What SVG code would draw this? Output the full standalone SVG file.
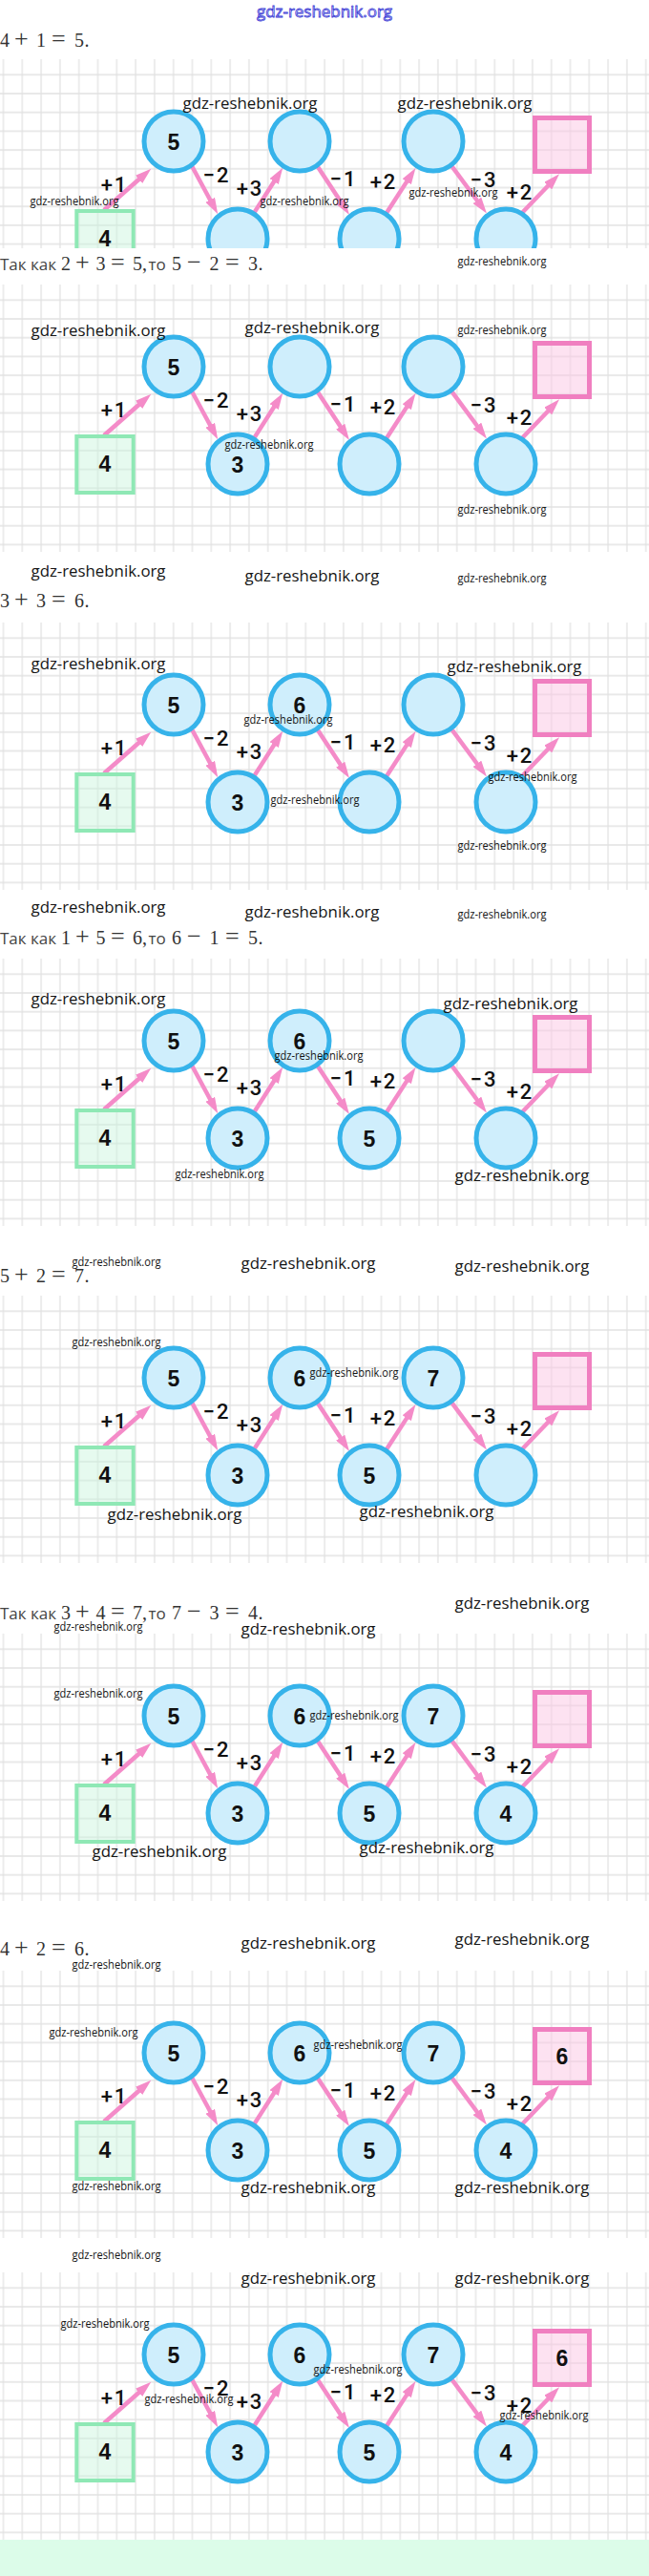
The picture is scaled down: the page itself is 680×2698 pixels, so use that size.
<svg xmlns="http://www.w3.org/2000/svg" width="680" height="2698" viewBox="0 0 680 2698">
<defs>
<style>
.grid{fill:url(#gp)}
.c{fill:#cfeefc;stroke:#36b3ea;stroke-width:5}
.sg{fill:#c8f5dc;fill-opacity:.45;stroke:#8fe8b5;stroke-width:4}
.sp{fill:#fbc6e4;fill-opacity:.5;stroke:#f07fc0;stroke-width:5}
.ar{stroke:#f48bc8;stroke-width:4.5;fill:none;marker-end:url(#ah)}
.n{font-family:"Liberation Sans",Arial,sans-serif;font-weight:bold;font-size:23px;fill:#111;text-anchor:middle}
.l{font-family:Roboto,"Liberation Sans",Arial,sans-serif;font-weight:500;font-size:22px;fill:#111;text-anchor:middle;letter-spacing:2px}
.wb{font-family:"Open Sans","Liberation Sans",sans-serif;font-size:17px;fill:#151515}
.ws{font-family:"Open Sans","Liberation Sans",sans-serif;font-size:12px;fill:#151515}
.wt{font-family:"Open Sans","Liberation Sans",sans-serif;font-size:16px;fill:#f4f4ff;stroke:#3d3dd6;stroke-width:.8}
.hm{font-family:"Liberation Serif","Times New Roman",serif;font-size:20px;fill:#333}
.op{font-size:26px}
.hs{font-family:"Open Sans","Liberation Sans",sans-serif;font-size:17px;fill:#444}
</style>
<pattern id="gp" patternUnits="userSpaceOnUse" x="-6.4" y="-79.55" width="19.8" height="19.7">
<path d="M9.9,0V19.7M0,9.85H19.8" stroke="#e2e2e2" stroke-width="1.3" fill="none"/>
</pattern>
<marker id="ah" markerUnits="userSpaceOnUse" viewBox="0 0 17 11" markerWidth="17" markerHeight="11" refX="7" refY="5.5" orient="auto">
<path d="M0,0 L17,5.5 L0,11 Z" fill="#f48bc8"/>
</marker>
<clipPath id="clip1"><rect x="0" y="-86" width="680" height="198"/></clipPath>
</defs>
<rect x="0" y="0" width="680" height="2698" fill="#fff"/>

<g id="headers">
<text class="hm" y="49" x="0 10 15 30 38 48 54 69 78 88.5">4 <tspan class="op">+</tspan> 1 <tspan class="op">=</tspan> 5.</text>
<text y="283"><tspan class="hs" x="0">Так как</tspan><tspan class="hm" x="59 64 74 79 93.7 100.5 110.5 116 130.7 139 149"> 2 <tspan class="op">+</tspan> 3 <tspan class="op">=</tspan> 5,</tspan><tspan class="hs" x="151"> то</tspan><tspan class="hm" x="174.5 180 190 196 210.7 219.5 229.5 236 250.7 260 270.5"> 5 <tspan class="op">−</tspan> 2 <tspan class="op">=</tspan> 3.</tspan></text>
<text class="hm" y="636" x="0 10 15 30 38 48 54 69 78 88.5">3 <tspan class="op">+</tspan> 3 <tspan class="op">=</tspan> 6.</text>
<text y="989"><tspan class="hs" x="0">Так как</tspan><tspan class="hm" x="59 64 74 79 93.7 100.5 110.5 116 130.7 139 149"> 1 <tspan class="op">+</tspan> 5 <tspan class="op">=</tspan> 6,</tspan><tspan class="hs" x="151"> то</tspan><tspan class="hm" x="174.5 180 190 196 210.7 219.5 229.5 236 250.7 260 270.5"> 6 <tspan class="op">−</tspan> 1 <tspan class="op">=</tspan> 5.</tspan></text>
<text class="hm" y="1343" x="0 10 15 30 38 48 54 69 78 88.5">5 <tspan class="op">+</tspan> 2 <tspan class="op">=</tspan> 7.</text>
<text y="1696"><tspan class="hs" x="0">Так как</tspan><tspan class="hm" x="59 64 74 79 93.7 100.5 110.5 116 130.7 139 149"> 3 <tspan class="op">+</tspan> 4 <tspan class="op">=</tspan> 7,</tspan><tspan class="hs" x="151"> то</tspan><tspan class="hm" x="174.5 180 190 196 210.7 219.5 229.5 236 250.7 260 270.5"> 7 <tspan class="op">−</tspan> 3 <tspan class="op">=</tspan> 4.</tspan></text>
<text class="hm" y="2048" x="0 10 15 30 38 48 54 69 78 88.5">4 <tspan class="op">+</tspan> 2 <tspan class="op">=</tspan> 6.</text>
</g>

<!-- Panel 1 -->
<g id="p1" transform="translate(0,148)" clip-path="url(#clip1)">
<rect class="grid" x="0" y="-86" width="680" height="198"/>
<g id="p1-connectors">
<path class="ar" d="M109,72 L150.8,35.3"/><path class="ar" d="M200,24 L223.5,67.5"/><path class="ar" d="M265.6,75.9 L290.9,36.2"/><path class="ar" d="M332,25.2 L360.5,68.6"/><path class="ar" d="M404,76.5 L430,36.4"/><path class="ar" d="M472.5,24.9 L504,67.5"/><path class="ar" d="M545,77 L579.1,41.5"/>
<text class="l" x="120" y="52.5">+1</text><text class="l" x="227" y="42.5">−2</text><text class="l" x="262" y="57">+3</text><text class="l" x="360" y="46.5">−1</text><text class="l" x="402" y="50">+2</text><text class="l" x="507" y="47.5">−3</text><text class="l" x="545" y="60.5">+2</text>
</g>
<g id="p1-start"><rect class="sg" x="80.3" y="73" width="59.4" height="59"/><text class="n" x="110" y="109.5">4</text></g>
<g id="p1-a"><circle class="c" cx="182" cy="0" r="31"/><text class="n" x="182" y="9">5</text></g>
<g id="p1-b"><circle class="c" cx="249" cy="102" r="31"/></g>
<g id="p1-c"><circle class="c" cx="314" cy="0" r="31"/></g>
<g id="p1-d"><circle class="c" cx="387" cy="102" r="31"/></g>
<g id="p1-e"><circle class="c" cx="454" cy="0" r="31"/></g>
<g id="p1-f"><circle class="c" cx="530" cy="102" r="31"/></g>
<g id="p1-end"><rect class="sp" x="560.5" y="-24.5" width="57" height="56"/></g>
</g>

<!-- Panel 2 -->
<g id="p2" transform="translate(0,384)">
<rect class="grid" x="0" y="-86" width="680" height="280"/>
<g id="p2-connectors">
<path class="ar" d="M109,72 L150.8,35.3"/><path class="ar" d="M200,24 L223.5,67.5"/><path class="ar" d="M265.6,75.9 L290.9,36.2"/><path class="ar" d="M332,25.2 L360.5,68.6"/><path class="ar" d="M404,76.5 L430,36.4"/><path class="ar" d="M472.5,24.9 L504,67.5"/><path class="ar" d="M545,77 L579.1,41.5"/>
<text class="l" x="120" y="52.5">+1</text><text class="l" x="227" y="42.5">−2</text><text class="l" x="262" y="57">+3</text><text class="l" x="360" y="46.5">−1</text><text class="l" x="402" y="50">+2</text><text class="l" x="507" y="47.5">−3</text><text class="l" x="545" y="60.5">+2</text>
</g>
<g id="p2-start"><rect class="sg" x="80.3" y="73" width="59.4" height="59"/><text class="n" x="110" y="109.5">4</text></g>
<g id="p2-a"><circle class="c" cx="182" cy="0" r="31"/><text class="n" x="182" y="9">5</text></g>
<g id="p2-b"><circle class="c" cx="249" cy="102" r="31"/><text class="n" x="249" y="111">3</text></g>
<g id="p2-c"><circle class="c" cx="314" cy="0" r="31"/></g>
<g id="p2-d"><circle class="c" cx="387" cy="102" r="31"/></g>
<g id="p2-e"><circle class="c" cx="454" cy="0" r="31"/></g>
<g id="p2-f"><circle class="c" cx="530" cy="102" r="31"/></g>
<g id="p2-end"><rect class="sp" x="560.5" y="-24.5" width="57" height="56"/></g>
</g>

<!-- Panel 3 -->
<g id="p3" transform="translate(0,738)">
<rect class="grid" x="0" y="-86" width="680" height="280"/>
<g id="p3-connectors">
<path class="ar" d="M109,72 L150.8,35.3"/><path class="ar" d="M200,24 L223.5,67.5"/><path class="ar" d="M265.6,75.9 L290.9,36.2"/><path class="ar" d="M332,25.2 L360.5,68.6"/><path class="ar" d="M404,76.5 L430,36.4"/><path class="ar" d="M472.5,24.9 L504,67.5"/><path class="ar" d="M545,77 L579.1,41.5"/>
<text class="l" x="120" y="52.5">+1</text><text class="l" x="227" y="42.5">−2</text><text class="l" x="262" y="57">+3</text><text class="l" x="360" y="46.5">−1</text><text class="l" x="402" y="50">+2</text><text class="l" x="507" y="47.5">−3</text><text class="l" x="545" y="60.5">+2</text>
</g>
<g id="p3-start"><rect class="sg" x="80.3" y="73" width="59.4" height="59"/><text class="n" x="110" y="109.5">4</text></g>
<g id="p3-a"><circle class="c" cx="182" cy="0" r="31"/><text class="n" x="182" y="9">5</text></g>
<g id="p3-b"><circle class="c" cx="249" cy="102" r="31"/><text class="n" x="249" y="111">3</text></g>
<g id="p3-c"><circle class="c" cx="314" cy="0" r="31"/><text class="n" x="314" y="9">6</text></g>
<g id="p3-d"><circle class="c" cx="387" cy="102" r="31"/></g>
<g id="p3-e"><circle class="c" cx="454" cy="0" r="31"/></g>
<g id="p3-f"><circle class="c" cx="530" cy="102" r="31"/></g>
<g id="p3-end"><rect class="sp" x="560.5" y="-24.5" width="57" height="56"/></g>
</g>

<!-- Panel 4 -->
<g id="p4" transform="translate(0,1090)">
<rect class="grid" x="0" y="-86" width="680" height="280"/>
<g id="p4-connectors">
<path class="ar" d="M109,72 L150.8,35.3"/><path class="ar" d="M200,24 L223.5,67.5"/><path class="ar" d="M265.6,75.9 L290.9,36.2"/><path class="ar" d="M332,25.2 L360.5,68.6"/><path class="ar" d="M404,76.5 L430,36.4"/><path class="ar" d="M472.5,24.9 L504,67.5"/><path class="ar" d="M545,77 L579.1,41.5"/>
<text class="l" x="120" y="52.5">+1</text><text class="l" x="227" y="42.5">−2</text><text class="l" x="262" y="57">+3</text><text class="l" x="360" y="46.5">−1</text><text class="l" x="402" y="50">+2</text><text class="l" x="507" y="47.5">−3</text><text class="l" x="545" y="60.5">+2</text>
</g>
<g id="p4-start"><rect class="sg" x="80.3" y="73" width="59.4" height="59"/><text class="n" x="110" y="109.5">4</text></g>
<g id="p4-a"><circle class="c" cx="182" cy="0" r="31"/><text class="n" x="182" y="9">5</text></g>
<g id="p4-b"><circle class="c" cx="249" cy="102" r="31"/><text class="n" x="249" y="111">3</text></g>
<g id="p4-c"><circle class="c" cx="314" cy="0" r="31"/><text class="n" x="314" y="9">6</text></g>
<g id="p4-d"><circle class="c" cx="387" cy="102" r="31"/><text class="n" x="387" y="111">5</text></g>
<g id="p4-e"><circle class="c" cx="454" cy="0" r="31"/></g>
<g id="p4-f"><circle class="c" cx="530" cy="102" r="31"/></g>
<g id="p4-end"><rect class="sp" x="560.5" y="-24.5" width="57" height="56"/></g>
</g>

<!-- Panel 5 -->
<g id="p5" transform="translate(0,1443)">
<rect class="grid" x="0" y="-86" width="680" height="280"/>
<g id="p5-connectors">
<path class="ar" d="M109,72 L150.8,35.3"/><path class="ar" d="M200,24 L223.5,67.5"/><path class="ar" d="M265.6,75.9 L290.9,36.2"/><path class="ar" d="M332,25.2 L360.5,68.6"/><path class="ar" d="M404,76.5 L430,36.4"/><path class="ar" d="M472.5,24.9 L504,67.5"/><path class="ar" d="M545,77 L579.1,41.5"/>
<text class="l" x="120" y="52.5">+1</text><text class="l" x="227" y="42.5">−2</text><text class="l" x="262" y="57">+3</text><text class="l" x="360" y="46.5">−1</text><text class="l" x="402" y="50">+2</text><text class="l" x="507" y="47.5">−3</text><text class="l" x="545" y="60.5">+2</text>
</g>
<g id="p5-start"><rect class="sg" x="80.3" y="73" width="59.4" height="59"/><text class="n" x="110" y="109.5">4</text></g>
<g id="p5-a"><circle class="c" cx="182" cy="0" r="31"/><text class="n" x="182" y="9">5</text></g>
<g id="p5-b"><circle class="c" cx="249" cy="102" r="31"/><text class="n" x="249" y="111">3</text></g>
<g id="p5-c"><circle class="c" cx="314" cy="0" r="31"/><text class="n" x="314" y="9">6</text></g>
<g id="p5-d"><circle class="c" cx="387" cy="102" r="31"/><text class="n" x="387" y="111">5</text></g>
<g id="p5-e"><circle class="c" cx="454" cy="0" r="31"/><text class="n" x="454" y="9">7</text></g>
<g id="p5-f"><circle class="c" cx="530" cy="102" r="31"/></g>
<g id="p5-end"><rect class="sp" x="560.5" y="-24.5" width="57" height="56"/></g>
</g>

<!-- Panel 6 -->
<g id="p6" transform="translate(0,1797)">
<rect class="grid" x="0" y="-86" width="680" height="280"/>
<g id="p6-connectors">
<path class="ar" d="M109,72 L150.8,35.3"/><path class="ar" d="M200,24 L223.5,67.5"/><path class="ar" d="M265.6,75.9 L290.9,36.2"/><path class="ar" d="M332,25.2 L360.5,68.6"/><path class="ar" d="M404,76.5 L430,36.4"/><path class="ar" d="M472.5,24.9 L504,67.5"/><path class="ar" d="M545,77 L579.1,41.5"/>
<text class="l" x="120" y="52.5">+1</text><text class="l" x="227" y="42.5">−2</text><text class="l" x="262" y="57">+3</text><text class="l" x="360" y="46.5">−1</text><text class="l" x="402" y="50">+2</text><text class="l" x="507" y="47.5">−3</text><text class="l" x="545" y="60.5">+2</text>
</g>
<g id="p6-start"><rect class="sg" x="80.3" y="73" width="59.4" height="59"/><text class="n" x="110" y="109.5">4</text></g>
<g id="p6-a"><circle class="c" cx="182" cy="0" r="31"/><text class="n" x="182" y="9">5</text></g>
<g id="p6-b"><circle class="c" cx="249" cy="102" r="31"/><text class="n" x="249" y="111">3</text></g>
<g id="p6-c"><circle class="c" cx="314" cy="0" r="31"/><text class="n" x="314" y="9">6</text></g>
<g id="p6-d"><circle class="c" cx="387" cy="102" r="31"/><text class="n" x="387" y="111">5</text></g>
<g id="p6-e"><circle class="c" cx="454" cy="0" r="31"/><text class="n" x="454" y="9">7</text></g>
<g id="p6-f"><circle class="c" cx="530" cy="102" r="31"/><text class="n" x="530" y="111">4</text></g>
<g id="p6-end"><rect class="sp" x="560.5" y="-24.5" width="57" height="56"/></g>
</g>

<!-- Panel 7 -->
<g id="p7" transform="translate(0,2150)">
<rect class="grid" x="0" y="-86" width="680" height="280"/>
<g id="p7-connectors">
<path class="ar" d="M109,72 L150.8,35.3"/><path class="ar" d="M200,24 L223.5,67.5"/><path class="ar" d="M265.6,75.9 L290.9,36.2"/><path class="ar" d="M332,25.2 L360.5,68.6"/><path class="ar" d="M404,76.5 L430,36.4"/><path class="ar" d="M472.5,24.9 L504,67.5"/><path class="ar" d="M545,77 L579.1,41.5"/>
<text class="l" x="120" y="52.5">+1</text><text class="l" x="227" y="42.5">−2</text><text class="l" x="262" y="57">+3</text><text class="l" x="360" y="46.5">−1</text><text class="l" x="402" y="50">+2</text><text class="l" x="507" y="47.5">−3</text><text class="l" x="545" y="60.5">+2</text>
</g>
<g id="p7-start"><rect class="sg" x="80.3" y="73" width="59.4" height="59"/><text class="n" x="110" y="109.5">4</text></g>
<g id="p7-a"><circle class="c" cx="182" cy="0" r="31"/><text class="n" x="182" y="9">5</text></g>
<g id="p7-b"><circle class="c" cx="249" cy="102" r="31"/><text class="n" x="249" y="111">3</text></g>
<g id="p7-c"><circle class="c" cx="314" cy="0" r="31"/><text class="n" x="314" y="9">6</text></g>
<g id="p7-d"><circle class="c" cx="387" cy="102" r="31"/><text class="n" x="387" y="111">5</text></g>
<g id="p7-e"><circle class="c" cx="454" cy="0" r="31"/><text class="n" x="454" y="9">7</text></g>
<g id="p7-f"><circle class="c" cx="530" cy="102" r="31"/><text class="n" x="530" y="111">4</text></g>
<g id="p7-end"><rect class="sp" x="560.5" y="-24.5" width="57" height="56"/><text class="n" x="589" y="12">6</text></g>
</g>

<!-- Panel 8 -->
<g id="p8" transform="translate(0,2466)">
<rect class="grid" x="0" y="-86" width="680" height="280"/>
<g id="p8-connectors">
<path class="ar" d="M109,72 L150.8,35.3"/><path class="ar" d="M200,24 L223.5,67.5"/><path class="ar" d="M265.6,75.9 L290.9,36.2"/><path class="ar" d="M332,25.2 L360.5,68.6"/><path class="ar" d="M404,76.5 L430,36.4"/><path class="ar" d="M472.5,24.9 L504,67.5"/><path class="ar" d="M545,77 L579.1,41.5"/>
<text class="l" x="120" y="52.5">+1</text><text class="l" x="227" y="42.5">−2</text><text class="l" x="262" y="57">+3</text><text class="l" x="360" y="46.5">−1</text><text class="l" x="402" y="50">+2</text><text class="l" x="507" y="47.5">−3</text><text class="l" x="545" y="60.5">+2</text>
</g>
<g id="p8-start"><rect class="sg" x="80.3" y="73" width="59.4" height="59"/><text class="n" x="110" y="109.5">4</text></g>
<g id="p8-a"><circle class="c" cx="182" cy="0" r="31"/><text class="n" x="182" y="9">5</text></g>
<g id="p8-b"><circle class="c" cx="249" cy="102" r="31"/><text class="n" x="249" y="111">3</text></g>
<g id="p8-c"><circle class="c" cx="314" cy="0" r="31"/><text class="n" x="314" y="9">6</text></g>
<g id="p8-d"><circle class="c" cx="387" cy="102" r="31"/><text class="n" x="387" y="111">5</text></g>
<g id="p8-e"><circle class="c" cx="454" cy="0" r="31"/><text class="n" x="454" y="9">7</text></g>
<g id="p8-f"><circle class="c" cx="530" cy="102" r="31"/><text class="n" x="530" y="111">4</text></g>
<g id="p8-end"><rect class="sp" x="560.5" y="-24.5" width="57" height="56"/><text class="n" x="589" y="12">6</text></g>
</g>

<rect id="bottom-band" x="0" y="2660" width="680" height="38" fill="#dcfce9"/>

<g id="watermarks">
<text class="wt" x="269" y="18" textLength="142" lengthAdjust="spacingAndGlyphs">gdz-reshebnik.org</text>
<text class="wb" x="191.5" y="114.4" textLength="141" lengthAdjust="spacingAndGlyphs">gdz-reshebnik.org</text>
<text class="wb" x="416.5" y="114.4" textLength="141" lengthAdjust="spacingAndGlyphs">gdz-reshebnik.org</text>
<text class="ws" x="31.5" y="215.2" textLength="93" lengthAdjust="spacingAndGlyphs">gdz-reshebnik.org</text>
<text class="ws" x="272.5" y="215.2" textLength="93" lengthAdjust="spacingAndGlyphs">gdz-reshebnik.org</text>
<text class="ws" x="428.5" y="206.2" textLength="93" lengthAdjust="spacingAndGlyphs">gdz-reshebnik.org</text>
<text class="ws" x="479.5" y="278.2" textLength="93" lengthAdjust="spacingAndGlyphs">gdz-reshebnik.org</text>
<text class="wb" x="32.5" y="352.4" textLength="141" lengthAdjust="spacingAndGlyphs">gdz-reshebnik.org</text>
<text class="wb" x="256.5" y="349.4" textLength="141" lengthAdjust="spacingAndGlyphs">gdz-reshebnik.org</text>
<text class="ws" x="479.5" y="350.2" textLength="93" lengthAdjust="spacingAndGlyphs">gdz-reshebnik.org</text>
<text class="ws" x="235.5" y="470.2" textLength="93" lengthAdjust="spacingAndGlyphs">gdz-reshebnik.org</text>
<text class="ws" x="479.5" y="538.2" textLength="93" lengthAdjust="spacingAndGlyphs">gdz-reshebnik.org</text>
<text class="wb" x="32.5" y="604.4" textLength="141" lengthAdjust="spacingAndGlyphs">gdz-reshebnik.org</text>
<text class="wb" x="256.5" y="609.4" textLength="141" lengthAdjust="spacingAndGlyphs">gdz-reshebnik.org</text>
<text class="ws" x="479.5" y="610.2" textLength="93" lengthAdjust="spacingAndGlyphs">gdz-reshebnik.org</text>
<text class="wb" x="32.5" y="701.4" textLength="141" lengthAdjust="spacingAndGlyphs">gdz-reshebnik.org</text>
<text class="wb" x="468.5" y="704.4" textLength="141" lengthAdjust="spacingAndGlyphs">gdz-reshebnik.org</text>
<text class="ws" x="255.5" y="758.2" textLength="93" lengthAdjust="spacingAndGlyphs">gdz-reshebnik.org</text>
<text class="ws" x="283.5" y="842.2" textLength="93" lengthAdjust="spacingAndGlyphs">gdz-reshebnik.org</text>
<text class="ws" x="511.5" y="818.2" textLength="93" lengthAdjust="spacingAndGlyphs">gdz-reshebnik.org</text>
<text class="ws" x="479.5" y="890.2" textLength="93" lengthAdjust="spacingAndGlyphs">gdz-reshebnik.org</text>
<text class="wb" x="32.5" y="956.4" textLength="141" lengthAdjust="spacingAndGlyphs">gdz-reshebnik.org</text>
<text class="wb" x="256.5" y="961.4" textLength="141" lengthAdjust="spacingAndGlyphs">gdz-reshebnik.org</text>
<text class="ws" x="479.5" y="962.2" textLength="93" lengthAdjust="spacingAndGlyphs">gdz-reshebnik.org</text>
<text class="wb" x="32.5" y="1052.4" textLength="141" lengthAdjust="spacingAndGlyphs">gdz-reshebnik.org</text>
<text class="wb" x="464.5" y="1057.4" textLength="141" lengthAdjust="spacingAndGlyphs">gdz-reshebnik.org</text>
<text class="ws" x="287.5" y="1110.2" textLength="93" lengthAdjust="spacingAndGlyphs">gdz-reshebnik.org</text>
<text class="ws" x="183.5" y="1234.2" textLength="93" lengthAdjust="spacingAndGlyphs">gdz-reshebnik.org</text>
<text class="wb" x="476.5" y="1237.4" textLength="141" lengthAdjust="spacingAndGlyphs">gdz-reshebnik.org</text>
<text class="ws" x="75.5" y="1326.2" textLength="93" lengthAdjust="spacingAndGlyphs">gdz-reshebnik.org</text>
<text class="wb" x="252.5" y="1329.4" textLength="141" lengthAdjust="spacingAndGlyphs">gdz-reshebnik.org</text>
<text class="wb" x="476.5" y="1332.4" textLength="141" lengthAdjust="spacingAndGlyphs">gdz-reshebnik.org</text>
<text class="ws" x="75.5" y="1410.2" textLength="93" lengthAdjust="spacingAndGlyphs">gdz-reshebnik.org</text>
<text class="ws" x="324.5" y="1442.2" textLength="93" lengthAdjust="spacingAndGlyphs">gdz-reshebnik.org</text>
<text class="wb" x="112.5" y="1592.4" textLength="141" lengthAdjust="spacingAndGlyphs">gdz-reshebnik.org</text>
<text class="wb" x="376.5" y="1589.4" textLength="141" lengthAdjust="spacingAndGlyphs">gdz-reshebnik.org</text>
<text class="wb" x="476.5" y="1685.4" textLength="141" lengthAdjust="spacingAndGlyphs">gdz-reshebnik.org</text>
<text class="ws" x="56.5" y="1707.5" textLength="93" lengthAdjust="spacingAndGlyphs">gdz-reshebnik.org</text>
<text class="wb" x="252.5" y="1711.5" textLength="141" lengthAdjust="spacingAndGlyphs">gdz-reshebnik.org</text>
<text class="ws" x="56.5" y="1778.2" textLength="93" lengthAdjust="spacingAndGlyphs">gdz-reshebnik.org</text>
<text class="ws" x="324.5" y="1801.2" textLength="93" lengthAdjust="spacingAndGlyphs">gdz-reshebnik.org</text>
<text class="wb" x="96.5" y="1945.4" textLength="141" lengthAdjust="spacingAndGlyphs">gdz-reshebnik.org</text>
<text class="wb" x="376.5" y="1941.4" textLength="141" lengthAdjust="spacingAndGlyphs">gdz-reshebnik.org</text>
<text class="wb" x="252.5" y="2041.4" textLength="141" lengthAdjust="spacingAndGlyphs">gdz-reshebnik.org</text>
<text class="wb" x="476.5" y="2037.4" textLength="141" lengthAdjust="spacingAndGlyphs">gdz-reshebnik.org</text>
<text class="ws" x="75.5" y="2062.2" textLength="93" lengthAdjust="spacingAndGlyphs">gdz-reshebnik.org</text>
<text class="ws" x="51.5" y="2133.2" textLength="93" lengthAdjust="spacingAndGlyphs">gdz-reshebnik.org</text>
<text class="ws" x="328.5" y="2146.2" textLength="93" lengthAdjust="spacingAndGlyphs">gdz-reshebnik.org</text>
<text class="ws" x="75.5" y="2294.2" textLength="93" lengthAdjust="spacingAndGlyphs">gdz-reshebnik.org</text>
<text class="wb" x="252.5" y="2297.4" textLength="141" lengthAdjust="spacingAndGlyphs">gdz-reshebnik.org</text>
<text class="wb" x="476.5" y="2297.4" textLength="141" lengthAdjust="spacingAndGlyphs">gdz-reshebnik.org</text>
<text class="ws" x="75.5" y="2366.2" textLength="93" lengthAdjust="spacingAndGlyphs">gdz-reshebnik.org</text>
<text class="wb" x="252.5" y="2392.4" textLength="141" lengthAdjust="spacingAndGlyphs">gdz-reshebnik.org</text>
<text class="wb" x="476.5" y="2392.4" textLength="141" lengthAdjust="spacingAndGlyphs">gdz-reshebnik.org</text>
<text class="ws" x="63.5" y="2438.2" textLength="93" lengthAdjust="spacingAndGlyphs">gdz-reshebnik.org</text>
<text class="ws" x="328.5" y="2486.2" textLength="93" lengthAdjust="spacingAndGlyphs">gdz-reshebnik.org</text>
<text class="ws" x="151.5" y="2517.2" textLength="93" lengthAdjust="spacingAndGlyphs">gdz-reshebnik.org</text>
<text class="ws" x="523.5" y="2534.2" textLength="93" lengthAdjust="spacingAndGlyphs">gdz-reshebnik.org</text>
</g>
</svg>
